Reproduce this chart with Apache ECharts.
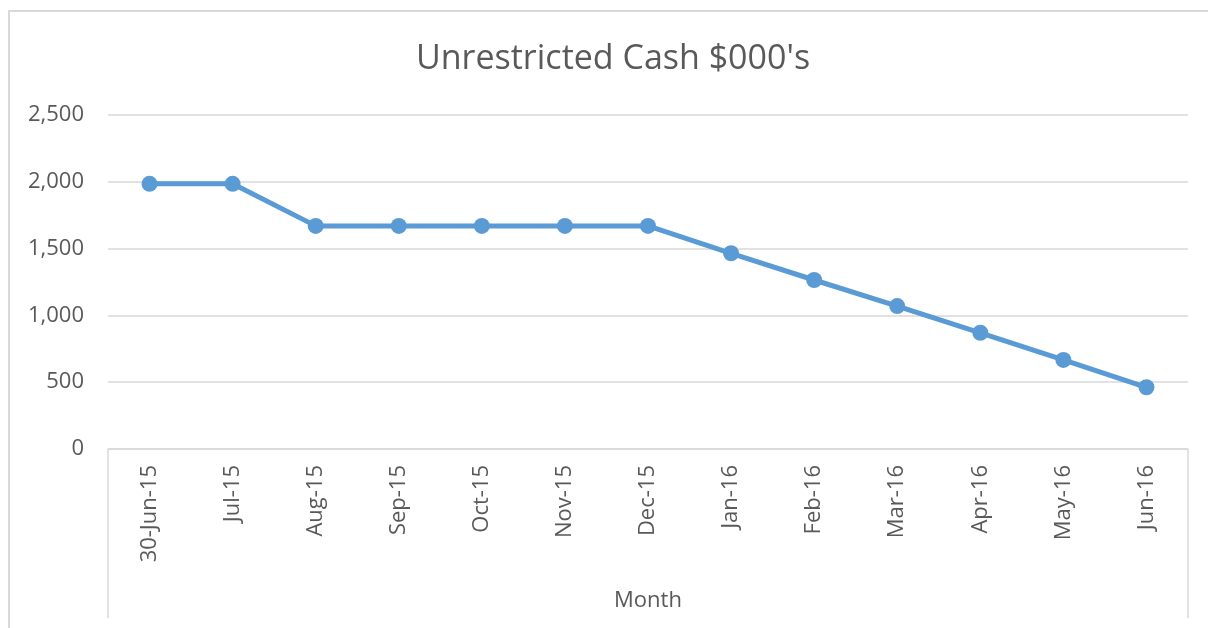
<!DOCTYPE html>
<html>
<head>
<meta charset="utf-8">
<script src="https://cdn.jsdelivr.net/npm/echarts@6/dist/echarts.min.js"></script>
<style>
html,body{margin:0;padding:0;background:#fff;}
#chart{width:1208px;height:628px;}
</style>
</head>
<body>
<div id="chart"></div>
<script>
const categories = ['30-Jun-15','Jul-15','Aug-15','Sep-15','Oct-15','Nov-15','Dec-15','Jan-16','Feb-16','Mar-16','Apr-16','May-16','Jun-16'];
const cashValues = [1985, 1985, 1670, 1670, 1670, 1670, 1670, 1465, 1265, 1070, 870, 667, 462];
const yTicks = [0, 500, 1000, 1500, 2000, 2500];
const titleText = 'Unrestricted Cash $000\'s';

const GRID = {left: 108, right: 20, top: 115, bottom: 179};
const W = 1208, H = 628;
const FONT = '"Open Sans", "Noto Sans", sans-serif';

const chart = echarts.init(document.getElementById('chart'), null, {renderer: 'canvas'});
chart.setOption({
  backgroundColor: '#ffffff',
  animation: false,
  grid: GRID,
  xAxis: {
    type: 'category',
    data: categories,
    boundaryGap: true,
    name: 'Month',
    nameLocation: 'middle',
    nameGap: 141,
    nameTextStyle: {fontFamily: FONT, fontSize: 22, color: '#595959'},
    axisLine: {show: true, lineStyle: {color: '#d9d9d9', width: 1.5}},
    axisTick: {show: false},
    axisLabel: {rotate: 90, interval: 0, margin: 16, fontFamily: FONT, fontSize: 22, color: '#595959'},
    splitLine: {show: false}
  },
  yAxis: {
    type: 'value',
    min: yTicks[0],
    max: yTicks[yTicks.length - 1],
    interval: yTicks[1] - yTicks[0],
    axisLine: {show: false},
    axisTick: {show: false},
    axisLabel: {
      margin: 24,
      fontFamily: FONT, fontSize: 22, color: '#595959',
      formatter: v => v.toLocaleString('en-US')
    },
    splitLine: {lineStyle: {color: '#d9d9d9', width: 1.5}}
  },
  series: [{
    type: 'line',
    data: cashValues,
    symbol: 'circle',
    symbolSize: 16,
    lineStyle: {color: '#5b9bd5', width: 5},
    itemStyle: {color: '#5b9bd5'}
  }],
  graphic: [
    {type: 'rect', shape: {x: 9, y: 11, width: W + 20, height: H + 20}, style: {fill: 'none', stroke: '#d9d9d9', lineWidth: 2}, silent: true},
    {type: 'line', shape: {x1: GRID.left, y1: H - GRID.bottom, x2: GRID.left, y2: 618}, style: {stroke: '#d9d9d9', lineWidth: 1.5}, silent: true},
    {type: 'line', shape: {x1: W - GRID.right, y1: H - GRID.bottom, x2: W - GRID.right, y2: 618}, style: {stroke: '#d9d9d9', lineWidth: 1.5}, silent: true},
    {type: 'text', x: 613, y: 59, silent: true,
     style: {text: titleText, fontFamily: FONT, fontSize: 34, fill: '#595959', textAlign: 'center', textVerticalAlign: 'middle'}}
  ]
});
</script>
</body>
</html>
